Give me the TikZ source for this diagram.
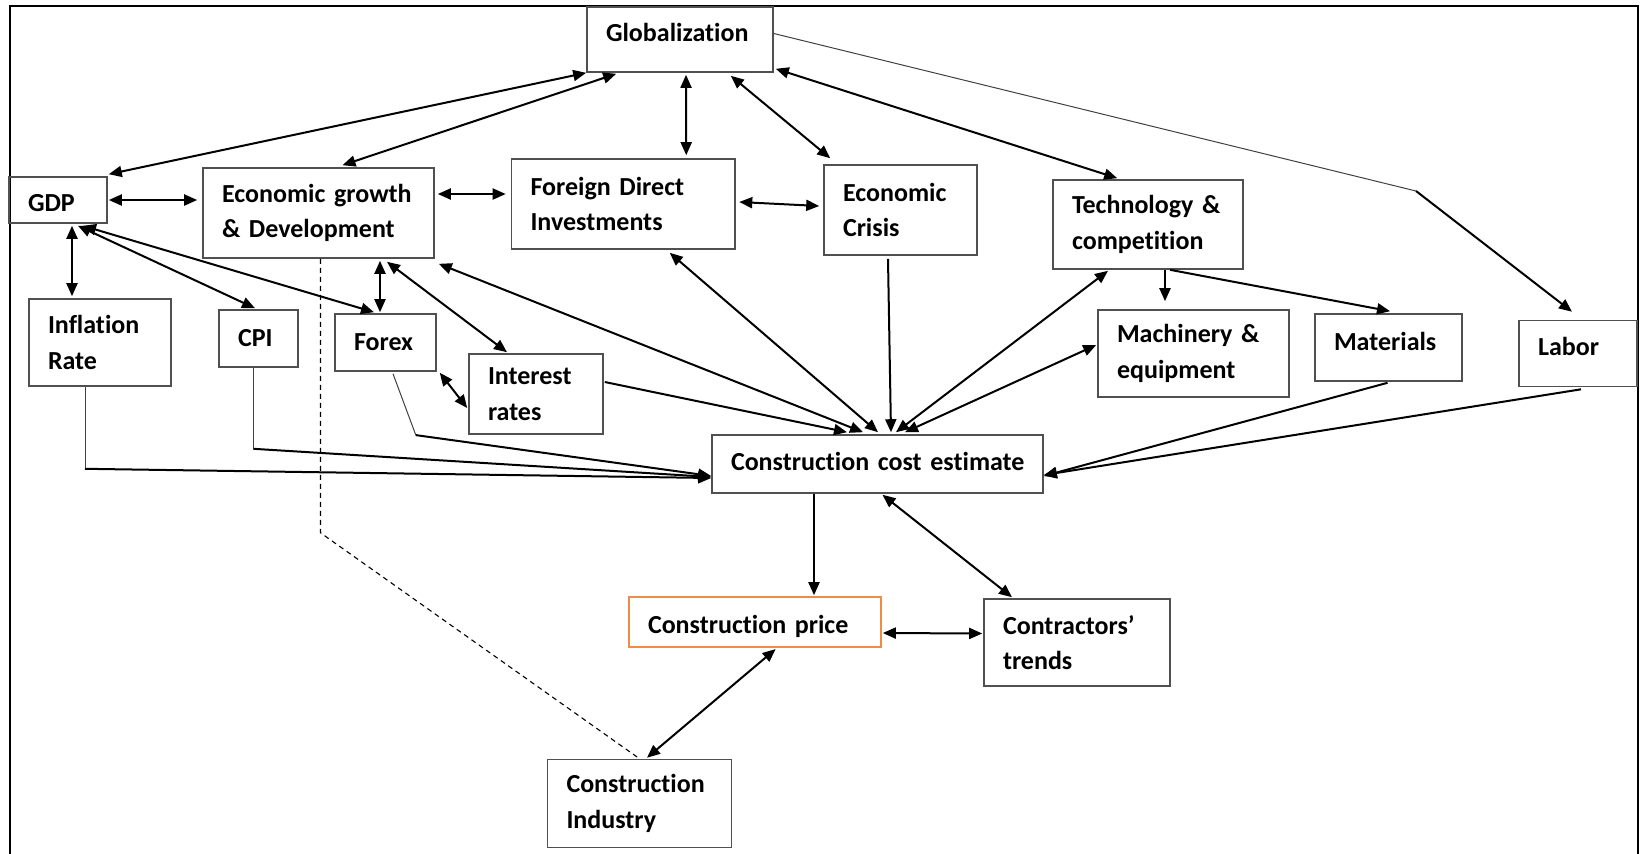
\documentclass[tikz,border=0pt]{standalone}
\usepackage{fontspec}
\setmainfont{Carlito}[Ligatures=NoCommon]
\usetikzlibrary{arrows.meta,calc}
\definecolor{boxline}{RGB}{80,80,80}
\definecolor{pricebox}{RGB}{240,140,70}

\begin{document}
\begin{tikzpicture}[x=0.5pt,y=-0.5pt,
  box/.style={draw=boxline, line width=0.8pt, rectangle, align=left,
    inner xsep=9.5pt, inner ysep=0pt,
    font=\bfseries\fontsize{13pt}{17.85pt}\selectfont},
  dims/.style n args={3}{minimum width=#1pt, minimum height=#2pt, text width=#3pt},
  txt/.style 2 args={text height=#1pt, text depth=#2pt},
  link/.style={line width=1pt, black},
  tip/.tip={Triangle[length=6.5pt,width=5.5pt]},
  both/.style={link, tip-tip},
  one/.style={link, -tip},
  feed/.style={line width=0.5pt, black!75},
  hint/.style={line width=0.55pt, dash pattern=on 2.5pt off 2pt},
]
\useasboundingbox (0,0) rectangle (1640,853);

% outer frame (its lower edge lies below the page)
\begin{scope}
  \clip (0,0) rectangle (1640,853);
  \draw[line width=1pt] (9.5,900) |- (1638,5.5) -- (1638,900);
\end{scope}

% factors
\node[box, dims={93}{32.5}{74}, txt={9}{7.5}]   (glob)     at (680,39.5)   {Globalization};
\node[box, dims={49}{23}{30}, txt={11.7}{0}]    (gdp)      at (58,200)     {GDP};
\node[box, dims={115.5}{45}{96.5}]   (eg)       at (318.5,213)  {Economic~growth\\\& Development};
\node[box, dims={111.75}{45}{92.75}] (fdi)      at (623.25,204) {Foreign Direct\\Investments};
\node[box, dims={76.5}{45}{57.5}]    (crisis)   at (900.5,210)  {Economic\\Crisis};
\node[box, dims={95}{44.5}{76}]      (tech)     at (1148,224.5) {Technology~\&\\competition};
\node[box, dims={71}{43.5}{52}]      (infl)     at (100,342.5)  {Inflation\\Rate};
\node[box, dims={39.5}{28.5}{20.5}]  (cpi)      at (258.5,338.5){CPI};
\node[box, dims={50.5}{28.5}{31.5}]  (forex)    at (385.5,342.5){Forex};
\node[box, dims={67}{40}{48}]        (interest) at (536,394)    {Interest\\rates};
\node[box, dims={95.5}{43.5}{76.5}]  (mach)     at (1193.5,353.5){Machinery~\&\\equipment};
\node[box, dims={73.5}{33.5}{54.5}, txt={9}{6.5}] (mat)   at (1388.5,347.5){Materials};
\node[box, dims={59}{33}{40}, txt={9}{7.5}]       (labor) at (1578,353.5) {Labor};
\node[box, dims={165.5}{29}{146.5}, txt={9}{2.3}] (cce)   at (877.5,464)  {\mbox{Construction cost estimate}};
\node[box, draw=pricebox, dims={126}{25}{107}, txt={12.5}{1.2}] (price) at (755,622) {Construction price};
\node[box, dims={93}{43.5}{74}]      (contr)    at (1077,642.5) {Contractors’\\trends};
\node[box, dims={92}{44}{73}]        (ind)      at (639.5,803.5){Construction\\Industry};

% links from globalization
\draw[both] (glob.south west) -- ($(gdp.north east)+(1,-2)$);
\draw[both] ($(glob.south west)+(30,1)$) -- ($(eg.north)+(24,-2)$);
\draw[both] ($(glob.south)+(6,2)$) -- ($(fdi.north)+(63,-3)$);
\draw[both] ($(glob.south east)+(-43,3)$) -- ($(crisis.north west)+(7,-6)$);
\draw[both] ($(glob.south east)+(2,-4)$) -- ($(tech.north west)+(65,-1)$);
\coordinate (laborbend) at (1416,191);
\draw[feed] ($(glob.east)+(0,-6)$) -- (laborbend);
\draw[one] (laborbend) -- ($(labor.north)+(-6,-8)$);

% links along the upper row
\draw[both] ($(gdp.east)+(1,0)$) -- ($(gdp.east -| eg.west)+(-5,0)$);
\draw[both] ($(eg.east)+(3,-19)$) -- ($(fdi.west)+(-5,-10)$);
\draw[both] ($(fdi.east)+(3.5,-2)$) -- ($(crisis.west)+(-4,-4)$);

% GDP and economic growth to the monetary factors
\draw[both] ($(gdp.south)+(14,2)$) -- ($(infl.north)+(-28,-2)$);
\draw[both] ($(gdp.south)+(20,2)$) -- ($(cpi.north)+(-3.5,-1)$);
\draw[both] ($(gdp.south)+(25,2)$) -- ($(forex.north)+(-11.5,-1)$);
\draw[both] ($(eg.south)+(61.5,2)$) -- ($(forex.north)+(-5.5,-1)$);
\draw[both] ($(eg.south)+(68.5,3)$) -- ($(interest.north)+(-29,-1)$);
\draw[both] ($(forex.south east)+(3,1)$) -- ($(interest.west)+(-1,14)$);

% links into the cost estimate from above
\draw[both] ($(eg.south east)+(4,5)$) -- ($(cce.north)+(-14.5,-2)$);
\draw[both] ($(fdi.south)+(46.5,3)$) -- ($(cce.north)+(0.5,-2)$);
\draw[one]  ($(crisis.south)+(-12.5,3)$) -- ($(cce.north)+(13.5,-2)$);
\draw[both] ($(tech.south)+(-40,1)$) -- ($(cce.north)+(18.5,-2)$);
\draw[both] ($(mach.west)+(-1,-8.5)$) -- ($(cce.north)+(27.5,-2)$);
\draw[one]  ($(interest.east)+(1,-12)$) -- ($(cce.north)+(-30.5,-2)$);

% links into the cost estimate from the left
\coordinate (inflknee) at ($(infl.south)+(-15,82)$);
\draw[feed] ($(infl.south)+(-15,0)$) -- (inflknee);
\draw[one] (inflknee) -- ($(cce.west)+(0,14)$);
\coordinate (cpiknee) at ($(cpi.south)+(-5,81)$);
\draw[feed] ($(cpi.south)+(-5,0)$) -- (cpiknee);
\draw[one] (cpiknee) -- ($(cce.west)+(0,13)$);
\coordinate (forexknee) at ($(forex.south)+(30.3,63.3)$);
\draw[feed] ($(forex.south)+(7.5,2)$) -- (forexknee);
\draw[one] (forexknee) -- ($(cce.west)+(0,12)$);

% technology branch and inputs from the right
\draw[one] ($(tech.south)+(17,0)$) -- ($(mach.north)+(-28.5,-8)$);
\draw[one] ($(tech.south)+(22,0)$) -- ($(mat.north)+(1.5,-2)$);
\draw[one] ($(mat.south)+(-1,1)$) -- ($(cce.east)+(0,12)$);
\draw[one] ($(labor.south)+(3,2)$) -- ($(cce.east)+(0,11)$);

% lower part
\draw[one]  ($(cce.south)+(-63.5,0)$) -- ($(price.north)+(59,-1)$);
\draw[both] ($(cce.south)+(5,1)$) -- ($(contr.north)+(-65,-1)$);
\draw[both] ($(price.east)+(1,11)$) -- ($(contr.west)+(-1,-9)$);
\draw[both] ($(price.south)+(20.6,1.3)$) -- ($(ind.north)+(7.5,-1)$);
\coordinate (dashknee) at ($(eg.south)+(2,274)$);
\draw[hint] ($(eg.south)+(2,0)$) -- (dashknee) -- (ind.north);
\end{tikzpicture}
\end{document}
